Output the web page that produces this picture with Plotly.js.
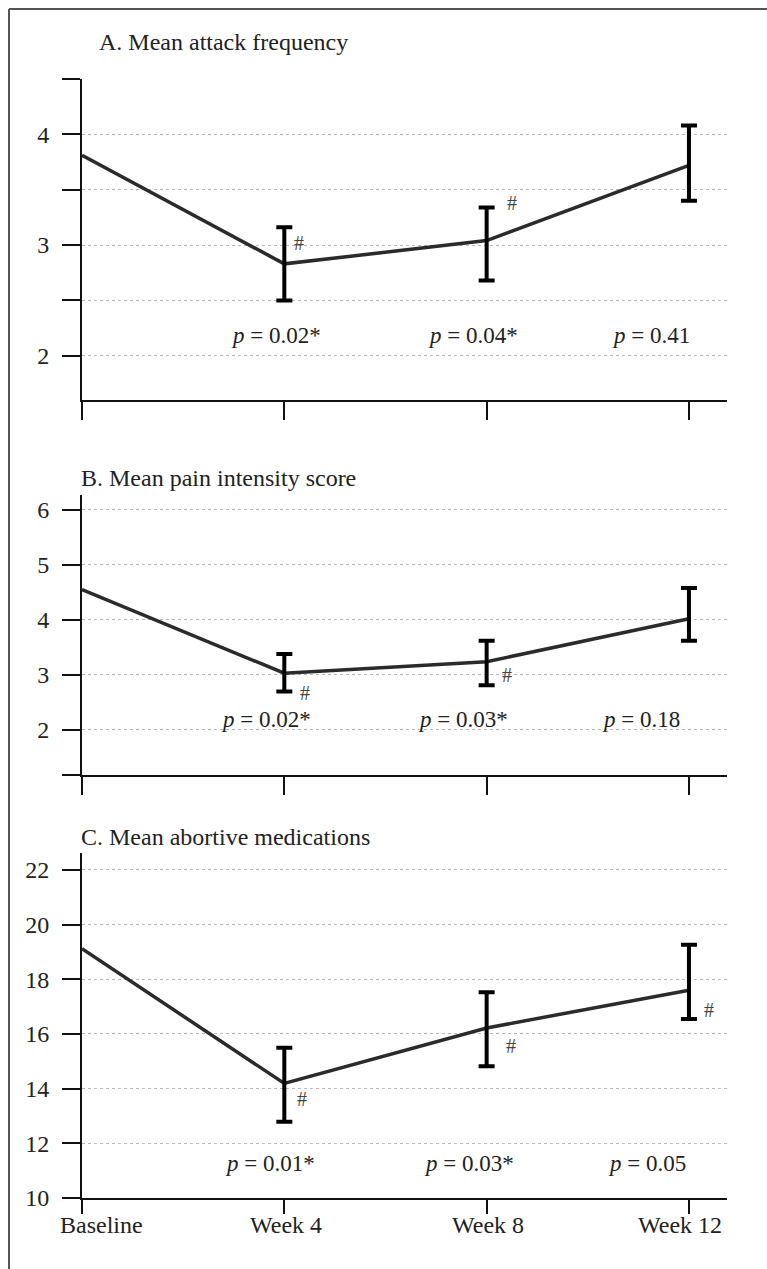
<!DOCTYPE html>
<html>
<head>
<meta charset="utf-8">
<script src="https://cdn.plot.ly/plotly-3.0.1.min.js"></script>
<style>html,body{margin:0;padding:0;background:#fff;}#chart{width:767px;height:1269px;}</style>
</head>
<body>
<div id="chart"></div>
<script>
// ---- data ----
const categories = ['Baseline', 'Week 4', 'Week 8', 'Week 12'];
const xIndex = [0, 1, 2, 3];

const attackMean = [3.81, 2.83, 3.04, 3.72];
const attackErrPlus = [0.33, 0.30, 0.36];
const attackErrMinus = [0.33, 0.36, 0.32];
const attackP = ['0.02*', '0.04*', '0.41'];
const attackHash = [true, true, false];

const painMean = [4.55, 3.03, 3.24, 4.02];
const painErrPlus = [0.35, 0.38, 0.56];
const painErrMinus = [0.33, 0.43, 0.40];
const painP = ['0.02*', '0.03*', '0.18'];
const painHash = [true, true, false];

const medsMean = [19.12, 14.19, 16.22, 17.60];
const medsErrPlus = [1.31, 1.31, 1.66];
const medsErrMinus = [1.40, 1.40, 1.05];
const medsP = ['0.01*', '0.03*', '0.05'];
const medsHash = [true, true, true];

const panelTitles = ['A. Mean attack frequency', 'B. Mean pain intensity score', 'C. Mean abortive medications'];

// ---- layout helpers ----
const W = 767, H = 1269;
const px = p => p / W;
const py = p => 1 - p / H;
const FONT = 'Liberation Serif, Times New Roman, serif';
const INK = '#111';

const weeks = xIndex.slice(1);

function lineTrace(mean, ax) {
  return {x: xIndex, y: mean, xaxis: 'x' + ax, yaxis: 'y' + ax, type: 'scatter', mode: 'lines',
    line: {color: '#2b2b2b', width: 3.5}, hoverinfo: 'skip'};
}
function errTrace(mean, plus, minus, ax) {
  return {x: weeks, y: mean.slice(1), xaxis: 'x' + ax, yaxis: 'y' + ax, type: 'scatter', mode: 'markers',
    marker: {size: 1, color: 'rgba(0,0,0,0)'},
    error_y: {type: 'data', symmetric: false, array: plus, arrayminus: minus, color: '#000', thickness: 4, width: 8},
    hoverinfo: 'skip'};
}

const data = [
  lineTrace(attackMean, ''), errTrace(attackMean, attackErrPlus, attackErrMinus, ''),
  lineTrace(painMean, '2'), errTrace(painMean, painErrPlus, painErrMinus, '2'),
  lineTrace(medsMean, '3'), errTrace(medsMean, medsErrPlus, medsErrMinus, '3')
];

const xBase = {
  range: [0, 3.188], tickvals: xIndex, showticklabels: false, ticks: 'outside', ticklen: 18, tickwidth: 2,
  tickcolor: INK, showline: true, linewidth: 2, linecolor: INK, showgrid: false, zeroline: false,
  domain: [px(82), px(727)], fixedrange: true
};
const yBase = {
  ticks: 'outside', ticklen: 18, tickwidth: 2, tickcolor: INK, showline: true, linewidth: 2, linecolor: INK,
  showgrid: true, gridcolor: '#b8b8b8', griddash: 'dot', gridwidth: 1, zeroline: false,
  tickfont: {family: FONT, size: 24, color: '#222'}, ticklabelstandoff: 8, fixedrange: true
};

const layout = {
  width: W, height: H, margin: {l: 0, r: 0, t: 0, b: 0},
  paper_bgcolor: '#fff', plot_bgcolor: '#fff', showlegend: false,
  font: {family: FONT, color: '#222'},
  xaxis: Object.assign({}, xBase, {anchor: 'y'}),
  yaxis: Object.assign({}, yBase, {anchor: 'x', domain: [py(400), py(79)], range: [1.6, 4.5],
    tickvals: [2, 2.5, 3, 3.5, 4, 4.5], ticktext: ['2', '', '3', '', '4', '']}),
  xaxis2: Object.assign({}, xBase, {anchor: 'y2'}),
  yaxis2: Object.assign({}, yBase, {anchor: 'x2', domain: [py(775), py(495)], range: [1.18, 6.27],
    tickvals: [1.18, 2, 3, 4, 5, 6], ticktext: ['', '2', '3', '4', '5', '6']}),
  xaxis3: Object.assign({}, xBase, {anchor: 'y3', ticklen: 14}),
  yaxis3: Object.assign({}, yBase, {anchor: 'x3', domain: [py(1198), py(853)], range: [10, 22.62],
    tickvals: [10, 12, 14, 16, 18, 20, 22], ticktext: ['10', '12', '14', '16', '18', '20', '22']}),
  shapes: [
    {type: 'line', xref: 'paper', yref: 'paper', x0: px(9), x1: px(767), y0: py(9), y1: py(9), line: {color: '#555', width: 2}},
    {type: 'line', xref: 'paper', yref: 'paper', x0: px(9), x1: px(9), y0: py(9), y1: py(1269), line: {color: '#555', width: 2}}
  ],
  annotations: []
};

// panel titles
const titlePos = [[97, 42], [79, 478], [79, 837]];
panelTitles.forEach((t, i) => layout.annotations.push({
  text: t, xref: 'paper', yref: 'paper', x: px(titlePos[i][0]), y: py(titlePos[i][1]),
  xanchor: 'left', yanchor: 'middle', showarrow: false, font: {family: FONT, size: 24, color: '#222'}
}));

// p-value labels
function pLabels(pvals, ax, yv, shifts) {
  pvals.forEach((p, i) => layout.annotations.push({
    text: '<i>p</i> = ' + p, xref: 'x' + ax, yref: 'y' + ax, x: weeks[i], y: yv, xshift: shifts[i],
    showarrow: false, xanchor: 'center', yanchor: 'middle', font: {family: FONT, size: 23, color: '#222'}
  }));
}
pLabels(attackP, '', 2.184, [-8, -14, -38]);
pLabels(painP, '2', 2.18, [-18, -24, -48]);
pLabels(medsP, '3', 11.26, [-14, -18, -42]);

// # markers
function hashes(flags, ax, ys, shifts) {
  flags.forEach((f, i) => { if (f) layout.annotations.push({
    text: '#', xref: 'x' + ax, yref: 'y' + ax, x: weeks[i], y: ys[i], xshift: shifts[i],
    showarrow: false, xanchor: 'center', yanchor: 'middle', font: {family: FONT, size: 20, color: '#444'}
  }); });
}
hashes(attackHash, '', [3.015, 3.38, null], [15, 25, 0]);
hashes(painHash, '2', [2.67, 3.0, null], [21, 20, 0]);
hashes(medsHash, '3', [13.61, 15.57, 16.89], [18, 24, 20]);

// x category labels (bottom panel)
const catShift = [19, 2, 1, -9];
categories.forEach((c, i) => layout.annotations.push({
  text: c, xref: 'x3', yref: 'paper', x: xIndex[i], y: py(1225), xshift: catShift[i],
  showarrow: false, xanchor: 'center', yanchor: 'middle', font: {family: FONT, size: 24, color: '#222'}
}));

Plotly.newPlot('chart', data, layout, {staticPlot: true, displayModeBar: false});
</script>
</body>
</html>
